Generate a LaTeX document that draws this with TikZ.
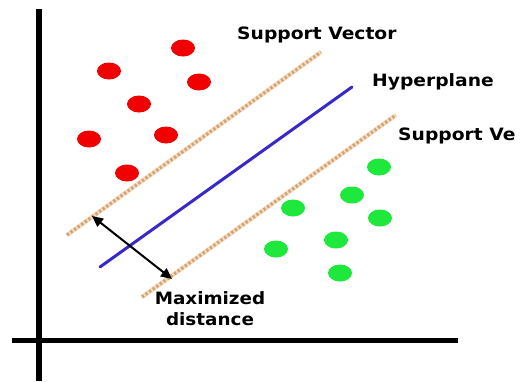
\documentclass[tikz,border=0pt]{standalone}
\usepackage{fontspec}
\setmainfont{DejaVu Sans}
\usetikzlibrary{arrows.meta,shapes.geometric}
\definecolor{dotred}{RGB}{240,0,0}
\definecolor{dotgreen}{RGB}{30,232,60}
\definecolor{hyperblue}{RGB}{55,40,200}
\definecolor{peach}{RGB}{252,222,190}
\definecolor{tan}{RGB}{205,165,125}
\tikzset{
  reddot/.style={ellipse, fill=dotred, minimum width=24pt, minimum height=17pt, inner sep=0pt},
  greendot/.style={ellipse, fill=dotgreen, minimum width=24pt, minimum height=17pt, inner sep=0pt},
  axisline/.style={line width=6pt, black},
  svbase/.style={line width=4.5pt, peach},
  svdots/.style={line width=3.2pt, tan, dash pattern=on 2.4pt off 2pt},
  hyper/.style={line width=3pt, hyperblue, line cap=round},
  lbl/.style={font=\bfseries\fontsize{17}{20}\selectfont, xscale=1.1, anchor=west, inner sep=0pt},
  lblc/.style={font=\bfseries\fontsize{17}{21}\selectfont, xscale=1.08, inner sep=0pt, align=center},
  disttip/.tip={Triangle[length=11pt,width=10pt]}
}
\begin{document}
\begin{tikzpicture}[x=1pt,y=-1pt]
\useasboundingbox[fill=white] (0,0) rectangle (522,381);
% axes
\coordinate (ytop) at (39,9);
\coordinate (ybot) at (39,381);
\coordinate (xl) at (12,340);
\coordinate (xr) at (458,340);
\draw[axisline] (ytop) -- (ybot);
\draw[axisline, line width=5pt] (xl) -- (xr);
% support vector lines
\coordinate (s1a) at (67,235);
\coordinate (s1b) at (321,52);
\coordinate (s2a) at (142,297);
\coordinate (s2b) at (396,115);
\draw[svbase] (s1a) -- (s1b);
\draw[svdots] (s1a) -- (s1b);
\draw[svbase] (s2a) -- (s2b);
\draw[svdots] (s2a) -- (s2b);
% hyperplane
\coordinate (ha) at (100,267);
\coordinate (hb) at (352,87);
\draw[hyper] (ha) -- (hb);
% red dots
\node[reddot] (r1) at (183,48) {};
\node[reddot] (r2) at (109,71) {};
\node[reddot] (r3) at (199,82) {};
\node[reddot] (r4) at (139,104) {};
\node[reddot] (r5) at (89,139) {};
\node[reddot] (r6) at (166,135) {};
\node[reddot] (r7) at (127,173) {};
% green dots
\node[greendot] (g1) at (379,167) {};
\node[greendot] (g2) at (352,195) {};
\node[greendot] (g3) at (293,208) {};
\node[greendot] (g4) at (380,218) {};
\node[greendot] (g5) at (336,240) {};
\node[greendot] (g6) at (276,249) {};
\node[greendot] (g7) at (340,273) {};
% distance arrow
\coordinate (da) at (92,216);
\coordinate (db) at (172,279);
\draw[line width=2pt, disttip-disttip] (da) -- (db);
% labels
\node[lbl] (svtop) at (237,35) {Support Vector};
\node[lbl] (hyp) at (372,82) {Hyperplane};
\node[lbl] (svbot) at (398,136) {Support Ve};
\node[lblc] (maxd) at (210,309) {Maximized\\distance};
\end{tikzpicture}
\end{document}
